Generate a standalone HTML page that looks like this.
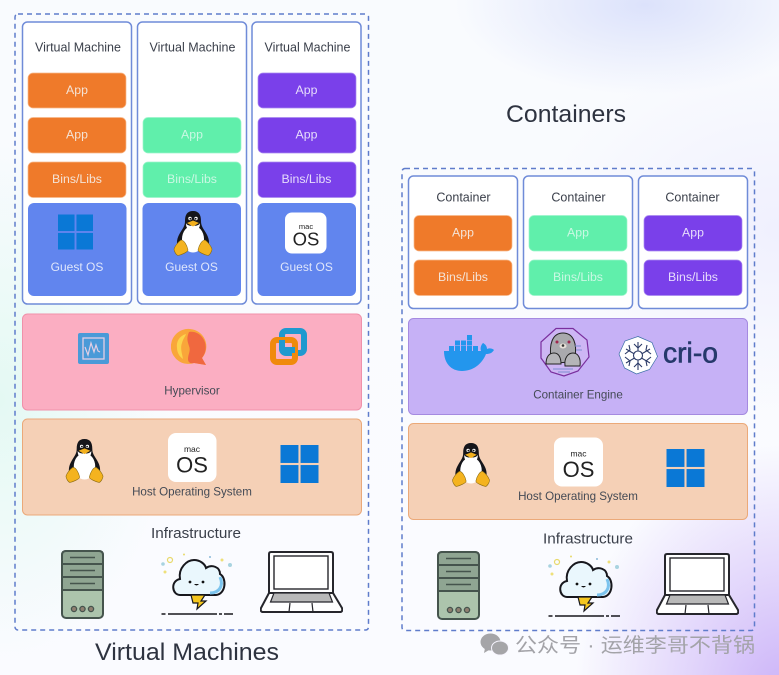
<!DOCTYPE html>
<html><head><meta charset="utf-8"><style>
html,body{margin:0;padding:0;width:779px;height:675px;overflow:hidden;background:#f9fbfe}
#bg{position:absolute;left:0;top:0;width:779px;height:675px;background:
radial-gradient(ellipse 210px 250px at 785px 695px,#cbb2f8 0%,rgba(205,181,248,.55) 45%,rgba(205,181,248,0) 100%),
radial-gradient(ellipse 190px 90px at 645px 5px,#dce2fb 0%,rgba(220,226,251,0) 100%),
radial-gradient(ellipse 170px 260px at 0px 400px,#e4f9f3 0%,rgba(230,249,244,0) 100%),
radial-gradient(ellipse 240px 180px at 779px 230px,#f0f0fe 0%,rgba(241,241,254,0) 100%),
linear-gradient(#f9fbfe,#fafbff)}
svg{position:absolute;left:0;top:0;filter:blur(.35px)}
text{font-family:"Liberation Sans","Noto Sans CJK SC",sans-serif;text-anchor:middle}
.vm{fill:#fff;stroke:#6f8bd8;stroke-width:1.5}
.dash{fill:none;stroke:#5f7ccb;stroke-width:1.5;stroke-dasharray:5 4}
.o{fill:#ef7a2a;stroke:#f7b98c;stroke-width:.7}.g{fill:#60efab;stroke:#9cf5cb;stroke-width:.7}.p{fill:#7a40ea;stroke:#a98af0;stroke-width:.7}
.b{fill:#6185ee}
.t{font-size:12.5px;fill:#3a3f4a}
.w{font-size:12.3px;fill:#f4e3d6}
.pw{font-size:12.3px;fill:#e6dcfb}
.gw{font-size:12.3px;fill:#c9f8e3}
.os{font-size:12px;fill:#dfe6fb}
.l{font-size:11.6px;fill:#444a55}
.h{font-size:24.5px;fill:#2e3340}
</style></head><body><div id="bg"></div>
<svg width="779" height="675" viewBox="0 0 779 675" xmlns="http://www.w3.org/2000/svg">
<defs>
<symbol id="win" viewBox="0 0 36 36"><g fill="#0a78d6"><rect width="17" height="17"/><rect x="19" width="17" height="17"/><rect y="19" width="17" height="17"/><rect x="19" y="19" width="17" height="17"/></g></symbol>
<symbol id="tux" viewBox="0 0 40 46">
<path d="M20 1C14 1 12 5 12 11C12 16 10 18 7 23C4 28 3 33 5 39L35 39C37 33 36 28 33 23C30 18 28 16 28 11C28 5 26 1 20 1Z" fill="#15151a"/>
<ellipse cx="20" cy="29" rx="11" ry="13.500" fill="#fff"/>
<path d="M13 13C14 17 26 17 27 13C27 20 24 19 20 19C16 19 13 20 13 13Z" fill="#fff"/>
<circle cx="17" cy="8.500" r="1.700" fill="#fff"/><circle cx="23" cy="8.500" r="1.700" fill="#fff"/>
<circle cx="17.300" cy="8.800" r=".9" fill="#111"/><circle cx="22.700" cy="8.800" r=".9" fill="#111"/>
<path d="M14 13 20 10.500 26 13 20 16.500Z" fill="#f2b01e"/>
<path d="M1 39C2 36 5 32 8 30C11 30 14 35 15 40C15 42 8 45 5 45.500C3 45 1 41 1 39Z" fill="#f4b31f" stroke="#8a6a10" stroke-width=".6"/>
<path d="M39 39C38 36 35 32 32 30C29 30 26 35 25 40C25 42 32 45 35 45.500C37 45 39 41 39 39Z" fill="#f4b31f" stroke="#8a6a10" stroke-width=".6"/>
</symbol>
<symbol id="server" viewBox="0 0 43 69">
<rect x="1" y="1" width="41" height="67" rx="4" fill="#acc4ac" stroke="#45544d" stroke-width="2"/>
<path d="M1 5Q1 1 5 1H38Q42 1 42 5V40H1Z" fill="#8fa592" stroke="#45544d" stroke-width="2"/>
<path d="M1 14H42M1 27H42" stroke="#45544d" stroke-width="2"/>
<path d="M9 7.500h25M9 20.500h25M9 33.500h25" stroke="#45544d" stroke-width="1.600"/>
<circle cx="13" cy="59" r="2.600" fill="#8f7f70" stroke="#45544d" stroke-width="1.300"/><circle cx="21.500" cy="59" r="2.600" fill="#8f7f70" stroke="#45544d" stroke-width="1.300"/><circle cx="30" cy="59" r="2.600" fill="#8f7f70" stroke="#45544d" stroke-width="1.300"/>
</symbol>
<symbol id="cloud" viewBox="0 0 74 66">
<path d="M20 42C12 42 10 28 20 26C18 15 27 7 34 7C40 7 45 11 46 15C52 11 60 14 60 21C67 25 66 41 56 42Z" fill="#eaf7fd" stroke="#17171d" stroke-width="2"/>
<path d="M50 40C59 40 64 33 60 24" fill="none" stroke="#7cc4ee" stroke-width="3"/>
<circle cx="30" cy="29" r="1.400" fill="#111"/><circle cx="43" cy="29" r="1.400" fill="#111"/><path d="M34 31q2.500 3 5 0z" fill="#111"/>
<path d="M31 42H45L41 48H46L37 56L38 50H33Z" fill="#f5c71e" stroke="#17171d" stroke-width="1.200"/>
<path d="M1.500 61h4M8 61h49M59 61h3M64 61h9" stroke="#17171d" stroke-width="1.600"/>
<circle cx="10" cy="7" r="2.500" fill="none" stroke="#e8d96c" stroke-width="1.200"/><circle cx="3" cy="11" r="1.800" fill="#a8d3e0"/><circle cx="5" cy="19" r="1.500" fill="#eee07a"/><circle cx="24" cy="1.500" r="1" fill="#e8d96c"/><circle cx="70" cy="12" r="2" fill="#a8d3e0"/><circle cx="62" cy="7" r="1.500" fill="#eee07a"/><circle cx="50" cy="4" r="1" fill="#8ab9d8"/>
</symbol>
<symbol id="laptop" viewBox="0 0 83 63">
<path d="M11 1h60q2 0 2 2v40H9V3q0-2 2-2z" fill="#fff" stroke="#26262c" stroke-width="2"/>
<rect x="14" y="5" width="54" height="33" fill="#fff" stroke="#26262c" stroke-width="1.400"/>
<path d="M9 42h64l9 15q1 4-2 4H3q-3 0-2-4z" fill="#fff" stroke="#26262c" stroke-width="2" stroke-linejoin="round"/>
<path d="M14 42h55l3.500 9H10.500z" fill="#b9b9b9" stroke="#26262c" stroke-width="1.200"/>
<path d="M30 52l-1 9M52 52l1 9" stroke="#26262c" stroke-width="1.200"/>
</symbol>
</defs>

<rect class="dash" x="15" y="14" width="353.500" height="616" rx="3"/>
<rect class="dash" x="402" y="168.500" width="352.500" height="462" rx="3"/>

<!-- VMs -->
<rect class="vm" x="22.500" y="22" width="109" height="282" rx="5"/>
<rect class="vm" x="137.500" y="22" width="109" height="282" rx="5"/>
<rect class="vm" x="252" y="22" width="109" height="282" rx="5"/>
<text class="t" x="78" y="51.500">Virtual Machine</text>
<text class="t" x="192.500" y="51.500">Virtual Machine</text>
<text class="t" x="307.500" y="51.500">Virtual Machine</text>

<rect class="o" x="28" y="73" width="98" height="35" rx="5"/><text class="w" x="77" y="94">App</text>
<rect class="o" x="28" y="117.500" width="98" height="35.500" rx="5"/><text class="w" x="77" y="138.500">App</text>
<rect class="o" x="28" y="162" width="98" height="35.500" rx="5"/><text class="w" x="77" y="183">Bins/Libs</text>
<rect class="g" x="143" y="117.500" width="98" height="35.500" rx="5"/><text class="gw" x="192" y="138.500">App</text>
<rect class="g" x="143" y="162" width="98" height="35.500" rx="5"/><text class="gw" x="192" y="183">Bins/Libs</text>
<rect class="p" x="258" y="73" width="98" height="35" rx="5"/><text class="pw" x="306.500" y="94">App</text>
<rect class="p" x="258" y="117.500" width="98" height="35.500" rx="5"/><text class="pw" x="306.500" y="138.500">App</text>
<rect class="p" x="258" y="162" width="98" height="35.500" rx="5"/><text class="pw" x="306.500" y="183">Bins/Libs</text>

<rect class="b" x="28" y="203" width="98.500" height="93" rx="6"/>
<rect class="b" x="142.500" y="203" width="98.500" height="93" rx="6"/>
<rect class="b" x="257.500" y="203" width="98.500" height="93" rx="6"/>
<use href="#win" x="58" y="214.500" width="35" height="35"/>
<use href="#tux" x="173" y="210" width="40" height="46"/>
<rect x="285" y="212.500" width="41.500" height="41" rx="7" fill="#fff"/>
<text x="306" y="229" font-size="7.500" fill="#222">mac</text>
<text x="306" y="245.500" font-size="18.500" fill="#222">OS</text>
<text class="os" x="77" y="271">Guest OS</text>
<text class="os" x="191.500" y="271">Guest OS</text>
<text class="os" x="306.500" y="271">Guest OS</text>

<!-- Hypervisor -->
<rect x="22.500" y="314" width="339" height="96" rx="5" fill="#fbaec2" stroke="#f091aa" stroke-width="1"/>
<rect x="78" y="333" width="31" height="31" rx="2" fill="#4a9ad8"/>
<rect x="83" y="338" width="21" height="21" fill="#4a9ad8" stroke="#e3cfe4" stroke-width="1.300"/>
<path d="M85 347l3 8 3-12 3 9 2-7 2 6 2 1" fill="none" stroke="#e3cfe4" stroke-width="1.200"/>
<path d="M190 329a17.500 17.500 0 1 0 4 34l12 2-4-7a17.500 17.500 0 0 0-12-29z" fill="#f9a63a"/>
<path d="M189 332c6-1 12 2 15 8 3 6 2 13-2 18l4 7-12-2c-4 1-6-1-6-4 0-5 3-8 1-13-1-4-3-7 0-14z" fill="#f0683f"/>
<path d="M186 334c-7 2-10 8-9 14 0 5 3 9 6 11-1-6-3-11-1-16 1-4 3-6 4-9z" fill="#fbd34c"/>
<rect x="282" y="331" width="22" height="22" rx="4" fill="none" stroke="#1f99cf" stroke-width="6"/>
<rect x="273" y="340" width="22" height="22" rx="4" fill="none" stroke="#f08a0c" stroke-width="6"/>
<path d="M282 340V349Q282 350 284 350H295" fill="none" stroke="#1f99cf" stroke-width="6"/>
<text class="l" x="192" y="394.500">Hypervisor</text>

<!-- Host left -->
<rect x="22.500" y="419" width="339" height="96" rx="5" fill="#f5d0b6" stroke="#eba979" stroke-width="1"/>
<use href="#tux" x="65" y="438" width="39" height="45"/>
<rect x="168" y="433" width="48.500" height="49" rx="8" fill="#fff"/>
<text x="192" y="452" font-size="8.500" fill="#222">mac</text>
<text x="192" y="472.500" font-size="22" fill="#222">OS</text>
<use href="#win" x="280.500" y="445" width="38" height="38"/>
<text class="l" x="192" y="495.500">Host Operating System</text>

<text x="196" y="538" font-size="14.500" fill="#3a3f4a" textLength="90" lengthAdjust="spacingAndGlyphs">Infrastructure</text>
<use href="#server" x="61" y="550" width="43" height="69"/>
<use href="#cloud" x="160" y="553" width="74" height="66"/>
<use href="#laptop" x="260" y="551" width="83" height="63"/>
<text class="h" x="187" y="660" textLength="184" lengthAdjust="spacingAndGlyphs">Virtual Machines</text>

<text class="h" x="566" y="122" textLength="120" lengthAdjust="spacingAndGlyphs">Containers</text>

<!-- Containers -->
<rect class="vm" x="408.500" y="176" width="109" height="132.500" rx="5"/>
<rect class="vm" x="523.500" y="176" width="109" height="132.500" rx="5"/>
<rect class="vm" x="638.500" y="176" width="109" height="132.500" rx="5"/>
<text class="t" x="463.500" y="201.500">Container</text>
<text class="t" x="578.500" y="201.500">Container</text>
<text class="t" x="692.500" y="201.500">Container</text>
<rect class="o" x="414" y="215.500" width="98" height="35.500" rx="5"/><text class="w" x="463" y="236.500">App</text>
<rect class="o" x="414" y="260" width="98" height="35.500" rx="5"/><text class="w" x="463" y="281">Bins/Libs</text>
<rect class="g" x="529" y="215.500" width="98" height="35.500" rx="5"/><text class="gw" x="578" y="236.500">App</text>
<rect class="g" x="529" y="260" width="98" height="35.500" rx="5"/><text class="gw" x="578" y="281">Bins/Libs</text>
<rect class="p" x="644" y="215.500" width="98" height="35.500" rx="5"/><text class="pw" x="693" y="236.500">App</text>
<rect class="p" x="644" y="260" width="98" height="35.500" rx="5"/><text class="pw" x="693" y="281">Bins/Libs</text>

<!-- Engine -->
<rect x="408.500" y="318.500" width="339" height="96" rx="5" fill="#c6b1f6" stroke="#a58ae0" stroke-width="1"/>
<g fill="#2396ed">
<path d="M444 351H481C480 348 481 345 483 343C485 344 487 346 487 349C489 348 492 348 494 350C492 353 490 354 486 354C482 364 473 371 462 371C451 371 444 363 444 351Z"/>
<rect x="449" y="346" width="5" height="5"/><rect x="455" y="346" width="5" height="5"/><rect x="461" y="346" width="5" height="5"/><rect x="467" y="346" width="5" height="5"/><rect x="473" y="346" width="5" height="5"/>
<rect x="455" y="340.500" width="5" height="5"/><rect x="461" y="340.500" width="5" height="5"/><rect x="467" y="340.500" width="5" height="5"/>
<rect x="467" y="335" width="5" height="5"/>
</g>
<path d="M556 328.500L573 328.500 587 340 589 357 578 371 564 376 551 372 541 358 541 342Z" fill="#cdb6f4" stroke="#7a2f9e" stroke-width="1.200"/>
<path d="M551 358C549 345 552 333 563 333C574 333 577 345 575 356L570 362 556 363Z" fill="#a9a9ad" stroke="#222" stroke-width="1"/>
<path d="M546 364C546 357 549 353 554 353C559 353 561 358 561 364Z" fill="#b5b5b8" stroke="#222" stroke-width="1"/>
<path d="M565 366C564 358 568 353 573 353C578 353 581 358 580 366Z" fill="#b5b5b8" stroke="#222" stroke-width="1"/>
<circle cx="557" cy="342" r="1.500" fill="#a0284f"/><circle cx="569" cy="342" r="1.500" fill="#a0284f"/><ellipse cx="563" cy="346" rx="3.500" ry="2.500" fill="#e8e0d8"/><circle cx="563" cy="345.500" r="1.300" fill="#333"/>
<path d="M553 369h20M558 372h12M575 346h6M576 350h6" stroke="#7d8fd0" stroke-width="1"/>
<path d="M638 336.500l14 6 5.500 14-8 13-13 4.500-12-6-5.500-14 6-13z" fill="#fff" stroke="#3a6ea5" stroke-width=".7"/>
<g stroke="#2b3a67" stroke-width="1.100" fill="none"><path d="M638 342v28M626 349l24 14M650 349l-24 14"/><circle cx="638" cy="355.500" r="4.500" fill="#fff"/><path d="M634 344l4 4 4-4M634 367l4-4 4 4M625 354l5-4-1-5M651 354l-5-4 1-5M625 357l5 4-1 5M651 357l-5 4 1 5"/></g>
<text x="690.500" y="362.500" font-size="29" fill="#26396b" stroke="#26396b" stroke-width=".6" textLength="55" lengthAdjust="spacingAndGlyphs">cri-o</text>
<text class="l" x="578" y="398.500">Container Engine</text>

<!-- Host right -->
<rect x="408.500" y="423.500" width="339" height="96" rx="5" fill="#f5d0b6" stroke="#eba979" stroke-width="1"/>
<use href="#tux" x="451.500" y="442" width="39" height="45"/>
<rect x="554" y="437.500" width="49" height="49" rx="8" fill="#fff"/>
<text x="578.500" y="456.500" font-size="8.500" fill="#222">mac</text>
<text x="578.500" y="477" font-size="22" fill="#222">OS</text>
<use href="#win" x="666.500" y="449" width="38" height="38"/>
<text class="l" x="578" y="500">Host Operating System</text>

<text x="588" y="543.500" font-size="14.500" fill="#3a3f4a" textLength="90" lengthAdjust="spacingAndGlyphs">Infrastructure</text>
<use href="#server" x="437" y="551" width="43" height="69"/>
<use href="#cloud" x="547" y="555" width="74" height="66"/>
<use href="#laptop" x="656" y="553" width="83" height="63"/>

<!-- Watermark -->
<ellipse cx="490.500" cy="642" rx="10" ry="8.500" fill="#a5a5a8"/>
<path d="M485 648l-1 5 5-3z" fill="#a5a5a8"/>
<ellipse cx="500" cy="648" rx="8.500" ry="7" fill="#a5a5a8" stroke="#f6f4fe" stroke-width="1"/>
<text x="635" y="652" font-size="20" fill="#a3a3a8" textLength="240" lengthAdjust="spacingAndGlyphs">公众号 · 运维李哥不背锅</text>
</svg>
</body></html>
